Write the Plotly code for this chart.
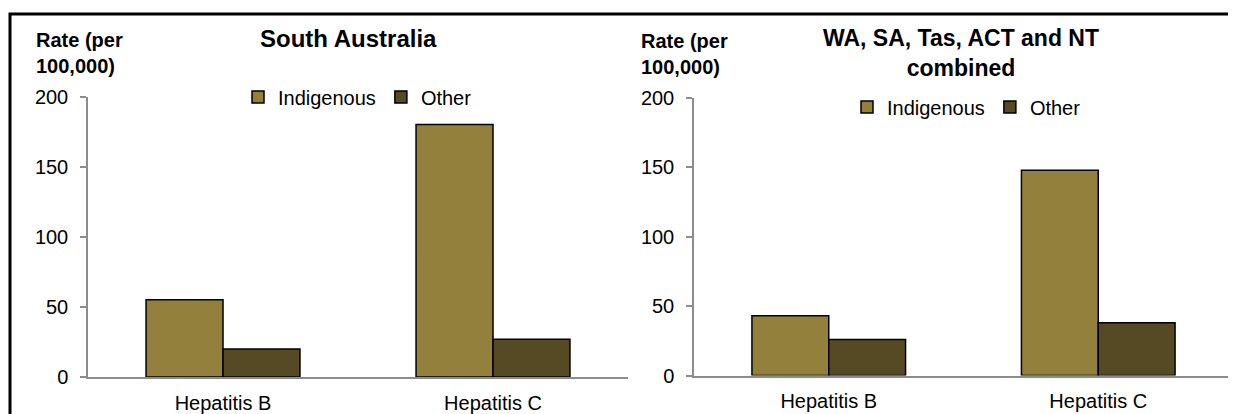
import plotly.graph_objects as go

# page body has an 8px margin, so the figure is drawn 8px in from the window corner
OFF = 8
W, H = 1236 - OFF, 414 - OFF

categories = ["Hepatitis B", "Hepatitis C"]
sa_indigenous = [55, 180]
sa_other = [20, 27]
comb_indigenous = [43, 148]
comb_other = [26, 38]
y_ticks = [0, 50, 100, 150, 200]

col_ind = "#93803C"
col_oth = "#564A25"
axis_col = "#8C8C8C"
FONT = "Liberation Sans, Arial, sans-serif"


def px_x(p):
    return (p - OFF) / W


def px_y(p):
    return 1 - (p - OFF) / H


fig = go.Figure()

fig.add_trace(go.Bar(x=categories, y=sa_indigenous, name="Indigenous", xaxis="x", yaxis="y",
                     marker=dict(color=col_ind, line=dict(color="black", width=1.5)),
                     legend="legend"))
fig.add_trace(go.Bar(x=categories, y=sa_other, name="Other", xaxis="x", yaxis="y",
                     marker=dict(color=col_oth, line=dict(color="black", width=1.5)),
                     legend="legend"))
fig.add_trace(go.Bar(x=categories, y=comb_indigenous, name="Indigenous", xaxis="x2", yaxis="y2",
                     marker=dict(color=col_ind, line=dict(color="black", width=1.5)),
                     legend="legend2"))
fig.add_trace(go.Bar(x=categories, y=comb_other, name="Other", xaxis="x2", yaxis="y2",
                     marker=dict(color=col_oth, line=dict(color="black", width=1.5)),
                     legend="legend2"))

yax = dict(range=[0, 200], tickvals=y_ticks, showline=True, linecolor=axis_col, linewidth=1.5,
           ticks="outside", ticklen=6, tickcolor=axis_col, tickwidth=1.5, showgrid=False,
           zeroline=False, tickfont=dict(size=20, color="black", family=FONT),
           ticklabelstandoff=8, fixedrange=True, automargin=False)
xax = dict(showline=True, linecolor=axis_col, linewidth=1.5, ticks="", showgrid=False,
           zeroline=False, tickfont=dict(size=20, color="black", family=FONT),
           ticklabelstandoff=7, fixedrange=True, automargin=False)

fig.update_layout(
    template="none",
    width=W, height=H,
    margin=dict(l=0, r=0, t=0, b=0, pad=0),
    paper_bgcolor="white", plot_bgcolor="white",
    font=dict(family=FONT, color="black"),
    barmode="group", bargap=0.43, bargroupgap=0,
    xaxis=dict(domain=[px_x(88), px_x(628)], anchor="y", **xax),
    yaxis=dict(domain=[px_y(377), px_y(96.5)], anchor="x", **yax),
    xaxis2=dict(domain=[px_x(694), px_x(1233)], anchor="y2", **xax),
    yaxis2=dict(domain=[px_y(375.5), px_y(98)], anchor="x2", **yax),
    legend=dict(orientation="h", x=px_x(238), xanchor="left", y=px_y(97), yanchor="middle",
                font=dict(size=20, family=FONT, color="black"), itemwidth=30,
                bgcolor="rgba(0,0,0,0)", traceorder="normal"),
    legend2=dict(orientation="h", x=px_x(847), xanchor="left", y=px_y(107), yanchor="middle",
                 font=dict(size=20, family=FONT, color="black"), itemwidth=30,
                 bgcolor="rgba(0,0,0,0)", traceorder="normal"),
    showlegend=True,
)

annots = [
    dict(text="<b>South Australia</b>", x=px_x(348), y=px_y(38), xanchor="center", yanchor="middle",
         font=dict(size=24, family=FONT, color="black")),
    dict(text="<b>WA, SA, Tas, ACT and NT<br>combined</b>", x=px_x(961), y=px_y(52.5),
         xanchor="center", yanchor="middle", font=dict(size=23, family=FONT, color="black")),
    dict(text="<b>Rate (per<br>100,000)</b>", x=px_x(34), y=px_y(53.5), xanchor="left",
         yanchor="middle", align="left", font=dict(size=20, family=FONT, color="black")),
    dict(text="<b>Rate (per<br>100,000)</b>", x=px_x(639), y=px_y(54), xanchor="left",
         yanchor="middle", align="left", font=dict(size=20, family=FONT, color="black")),
]
for a in annots:
    a.update(xref="paper", yref="paper", showarrow=False)
fig.update_layout(annotations=annots)

fig.add_shape(type="rect", xref="paper", yref="paper", x0=px_x(10), y0=px_y(14), x1=1.2, y1=-0.3,
              line=dict(color="black", width=3), fillcolor="rgba(0,0,0,0)", layer="above")

fig.write_html("out.html")
